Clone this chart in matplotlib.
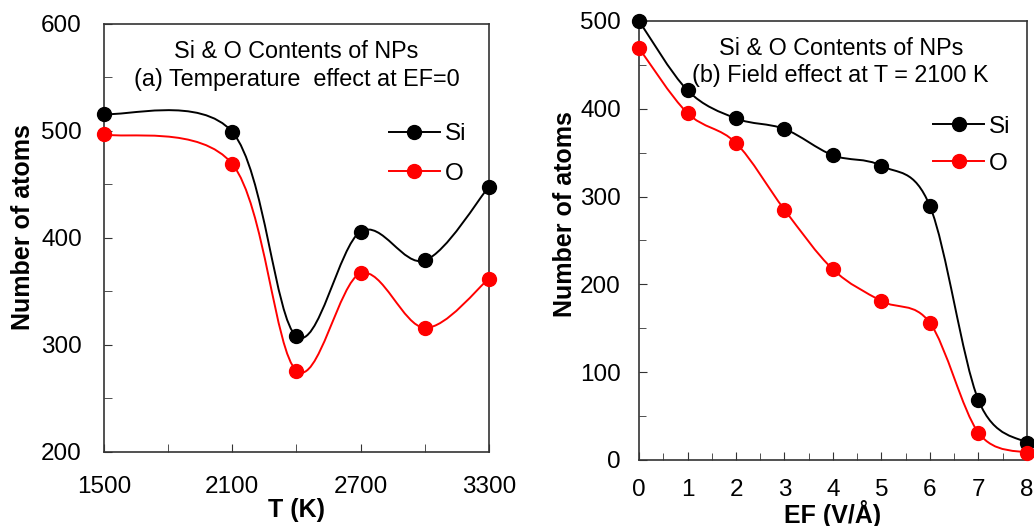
import numpy as np
import matplotlib
matplotlib.use("Agg")
import matplotlib.pyplot as plt
from matplotlib.path import Path
from matplotlib.patches import PathPatch
from matplotlib.ticker import MultipleLocator, FixedLocator

plt.rcParams['font.family'] = ['Liberation Sans', 'DejaVu Sans']

# panel (a): temperature effect at EF=0
temp = [1500, 2100, 2400, 2700, 3000, 3300]
si_temp = [516, 499, 308, 406, 379, 448]
o_temp = [497, 469, 276, 367, 316, 362]
temp_ticks = [1500, 2100, 2700, 3300]

# panel (b): field effect at T = 2100 K
field = [0, 1, 2, 3, 4, 5, 6, 7, 8]
si_field = [500, 421, 389, 377, 347, 335, 289, 68, 19]
o_field = [469, 395, 361, 285, 217, 181, 156, 31, 8]

TICK_FS = 17.5
TXT_FS = 16.8
LAB_FS = 18


def smooth_line(ax, x, y, color):
    # Excel style smoothed line: cubic Bezier through the points
    p = np.column_stack([x, y]).astype(float)
    n = len(p)
    verts = [p[0]]
    codes = [Path.MOVETO]
    for i in range(n - 1):
        prev = p[max(i - 1, 0)]
        nxt = p[min(i + 2, n - 1)]
        c1 = p[i] + (p[i + 1] - prev) / 6
        c2 = p[i + 1] - (nxt - p[i]) / 6
        verts += [c1, c2, p[i + 1]]
        codes += [Path.CURVE4] * 3
    ax.add_patch(PathPatch(Path(verts, codes), fill=False, edgecolor=color,
                           lw=1.4, clip_on=False, zorder=3))


def series(ax, x, y, color, label):
    smooth_line(ax, x, y, color)
    ax.plot(x, y, 'o', color=color, ms=10, clip_on=False, zorder=4)
    # legend proxy
    ax.plot([], [], '-o', color=color, ms=10, lw=1.4, label=label)


def style(ax):
    for s in ax.spines.values():
        s.set_color('#333333')
        s.set_linewidth(1.2)
    ax.tick_params(which='both', direction='in', top=False, right=False,
                   labelsize=TICK_FS, color='#333333')
    ax.tick_params(which='major', length=6)
    ax.tick_params(which='minor', length=6)


fig = plt.figure(figsize=(10.34, 5.26), dpi=100)

ax1 = fig.add_axes([0.1006, 0.1407, 0.3723, 0.8137])
series(ax1, temp, si_temp, 'black', 'Si')
series(ax1, temp, o_temp, 'red', 'O')
ax1.set_xlim(1500, 3300)
ax1.set_ylim(200, 600)
ax1.xaxis.set_major_locator(FixedLocator(temp_ticks))
ax1.xaxis.set_minor_locator(MultipleLocator(300))
ax1.yaxis.set_major_locator(MultipleLocator(100))
ax1.yaxis.set_minor_locator(MultipleLocator(50))
style(ax1)
ax1.tick_params(axis='y', pad=16)
ax1.tick_params(axis='x', pad=17)
ax1.set_xlabel('T (K)', fontsize=LAB_FS, fontweight='bold', labelpad=0)
ax1.set_ylabel('Number of atoms', fontsize=LAB_FS, fontweight='bold')
ax1.yaxis.set_label_coords(-0.18, 0.526)
ax1.text(0.5, 0.962, 'Si & O Contents of NPs\n(a) Temperature  effect at EF=0',
         transform=ax1.transAxes, ha='center', va='top', fontsize=TXT_FS,
         linespacing=1.25)
ax1.legend(loc='upper left', bbox_to_anchor=(0.74, 0.768), frameon=False,
           fontsize=TICK_FS, handlelength=2.1, handletextpad=0.2,
           labelspacing=0.72, borderpad=0, borderaxespad=0)

ax2 = fig.add_axes([0.618, 0.1255, 0.3752, 0.8346])
series(ax2, field, si_field, 'black', 'Si')
series(ax2, field, o_field, 'red', 'O')
ax2.set_xlim(0, 8)
ax2.set_ylim(0, 500)
ax2.xaxis.set_major_locator(MultipleLocator(1))
ax2.xaxis.set_minor_locator(MultipleLocator(0.5))
ax2.yaxis.set_major_locator(MultipleLocator(100))
ax2.yaxis.set_minor_locator(MultipleLocator(50))
style(ax2)
ax2.tick_params(which='minor', length=5)
ax2.tick_params(axis='y', pad=13)
ax2.tick_params(axis='x', pad=14)
ax2.set_xlabel('EF (V/Å)', fontsize=LAB_FS, fontweight='bold', labelpad=-1)
ax2.set_ylabel('Number of atoms', fontsize=LAB_FS, fontweight='bold')
ax2.yaxis.set_label_coords(-0.16, 0.56)
ax2.text(0.52, 0.963, 'Si & O Contents of NPs\n(b) Field effect at T = 2100 K',
         transform=ax2.transAxes, ha='center', va='top', fontsize=TXT_FS,
         linespacing=1.2)
ax2.legend(loc='upper left', bbox_to_anchor=(0.758, 0.784), frameon=False,
           fontsize=TICK_FS, handlelength=2.1, handletextpad=0.2,
           labelspacing=0.62, borderpad=0, borderaxespad=0)

fig.savefig('out.png', dpi=100)
